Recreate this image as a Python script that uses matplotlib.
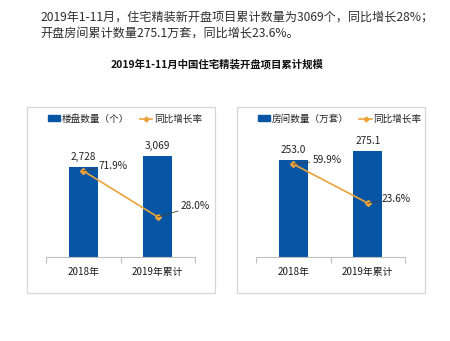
import numpy as np
import matplotlib.pyplot as plt
from matplotlib.patches import Rectangle, Patch
from matplotlib.lines import Line2D

plt.rcParams['font.family'] = ['Noto Sans CJK SC', 'DejaVu Sans']

# data
years = ['2018年', '2019年累计']
projects = [2728, 3069]
projects_growth = [71.9, 28.0]
rooms = [253.0, 275.1]
rooms_growth = [59.9, 23.6]

intro = ['2019年1-11月，住宅精装新开盘项目累计数量为3069个，同比增长28%；',
         '开盘房间累计数量275.1万套，同比增长23.6%。']
title = '2019年1-11月中国住宅精装开盘项目累计规模'

W, H = 450, 341
BLUE = '#0656a5'
ORANGE = '#eba33a'


def fx(px):
    return px / W


def fy(py):
    return 1 - py / H


def panel(fig, x0, values, growth, bar_label, ymax, ylim2, fmt, offs):
    # frame around the panel
    fig.patches.append(Rectangle((fx(x0 - 19), fy(293)), fx(188), 186 / H,
                                 transform=fig.transFigure, fill=False,
                                 edgecolor='#d6d6d6', lw=0.9))
    ax = fig.add_axes([fx(x0), fy(257), fx(149), 132 / H])
    x = np.arange(len(years))
    bars = ax.bar(x, values, width=0.39, color=BLUE, zorder=2)
    ax.set_xlim(-0.5, 1.5)
    ax.set_ylim(0, ymax)
    for s in ['left', 'right', 'top']:
        ax.spines[s].set_visible(False)
    ax.spines['bottom'].set_color('#bfbfbf')
    ax.set_yticks([])
    ax.set_xticks([-0.5, 0.5, 1.5])
    ax.set_xticklabels([])
    ax.tick_params(axis='x', length=4, color='#bfbfbf', direction='out')
    for xi, lab in zip(x, years):
        ax.annotate(lab, (xi, 0), xytext=(0, -15), textcoords='offset pixels',
                    ha='center', va='center', fontsize=7.1, color='#1a1a1a')
    for b, v in zip(bars, values):
        ax.annotate(fmt(v), (b.get_x() + b.get_width() / 2, v), xytext=(0, 10),
                    textcoords='offset pixels', ha='center', va='center',
                    fontsize=7.3, color='#222222')

    ax2 = ax.twinx()
    ax2.set_ylim(*ylim2)
    ax2.axis('off')
    ax2.plot(x, growth, color=ORANGE, lw=1.2, marker='D', markersize=3, zorder=3)
    for xi, g, (dx, dy) in zip(x, growth, offs):
        ax2.annotate('{:.1f}%'.format(g), (xi, g), xytext=(dx, dy),
                     textcoords='offset pixels', ha='left', va='center',
                     fontsize=7.3, color='#222222',
                     arrowprops=dict(arrowstyle='-', color='#404040', lw=0.6,
                                     shrinkA=0, shrinkB=0))

    handles = [Patch(color=BLUE),
               Line2D([], [], color=ORANGE, lw=1.2, marker='D', markersize=2.5)]
    fig.legend(handles, [bar_label, '同比增长率'], loc='center left',
               bbox_to_anchor=(fx(x0 + 2), fy(119)), ncol=2, frameon=False,
               fontsize=6.9, handlelength=1.3, handleheight=0.6,
               handletextpad=0.15, columnspacing=1.1, borderpad=0,
               borderaxespad=0, labelcolor='#222222')
    return ax


fig = plt.figure(figsize=(W / 100, H / 100), dpi=100)
fig.patch.set_facecolor('white')

fig.text(fx(40), fy(18), intro[0], fontsize=8.7, color='#2e2e2e', va='center')
fig.text(fx(40), fy(33), intro[1], fontsize=8.7, color='#2e2e2e', va='center')
fig.text(fx(217), fy(64), title, fontsize=7.5, fontweight='bold',
         ha='center', va='center', color='#111111')

panel(fig, 46, projects, projects_growth, '楼盘数量（个）', 4011, (-10.2, 115.7),
      lambda v: '{:,}'.format(v), [(15, 5), (23, 11)])
panel(fig, 256, rooms, rooms_growth, '房间数量（万套）', 342.6, (-26.6, 96.3),
      lambda v: '{:.1f}'.format(v), [(19, 4), (14, 4)])

fig.savefig('out.png', dpi=100, facecolor='white')
